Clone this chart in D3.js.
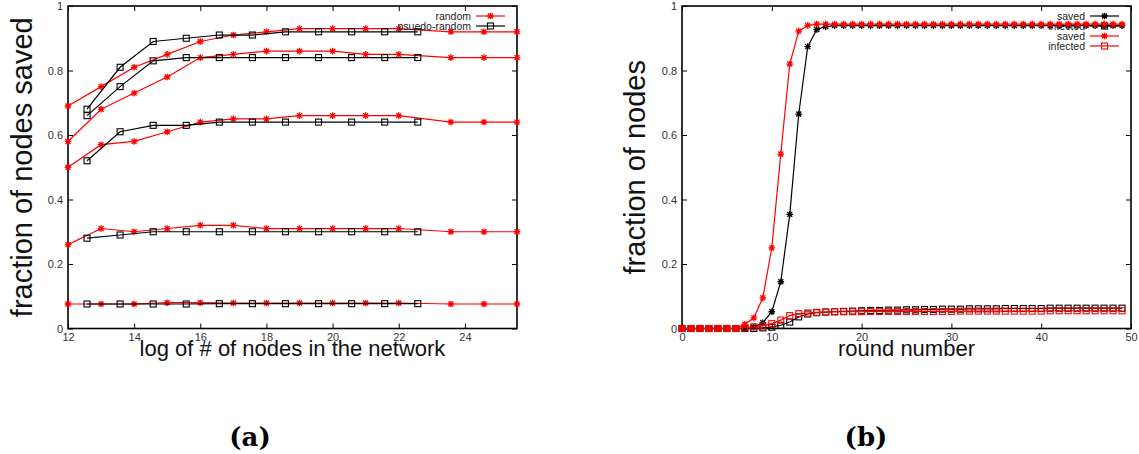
<!DOCTYPE html>
<html>
<head>
<meta charset="utf-8">
<style>
  body { margin: 0; background: #fff; }
  svg { display: block; font-family: 'Liberation Sans', Arial, sans-serif; }
</style>
</head>
<body>
<svg width="1139" height="454"></svg>
<script src="https://d3js.org/d3.v7.min.js"></script>
<script>
    // ---- panel (a) data ----
    let randomX = [12, 13, 14, 15, 16, 17, 18, 19, 20, 21, 22, 23.575, 24.575, 25.575]
    let pseudoX = [12.575, 13.575, 14.575, 15.575, 16.575, 17.575, 18.575, 19.575, 20.575, 21.575, 22.575]

    let random1 = [0.69, 0.75, 0.81, 0.85, 0.89, 0.91, 0.92, 0.93, 0.93, 0.93, 0.93, 0.92, 0.92, 0.92]
    let random2 = [0.58, 0.68, 0.73, 0.78, 0.84, 0.85, 0.86, 0.86, 0.86, 0.85, 0.85, 0.84, 0.84, 0.84]
    let random3 = [0.50, 0.57, 0.58, 0.61, 0.64, 0.65, 0.65, 0.66, 0.66, 0.66, 0.66, 0.64, 0.64, 0.64]
    let random4 = [0.26, 0.31, 0.30, 0.31, 0.32, 0.32, 0.31, 0.31, 0.31, 0.31, 0.31, 0.30, 0.30, 0.30]
    let random5 = [0.076, 0.076, 0.076, 0.08, 0.08, 0.079, 0.079, 0.079, 0.079, 0.079, 0.079, 0.076, 0.076, 0.076]

    let pseudo1 = [0.68, 0.81, 0.89, 0.90, 0.91, 0.91, 0.92, 0.92, 0.92, 0.92, 0.92]
    let pseudo2 = [0.66, 0.75, 0.83, 0.84, 0.84, 0.84, 0.84, 0.84, 0.84, 0.84, 0.84]
    let pseudo3 = [0.52, 0.61, 0.63, 0.63, 0.64, 0.64, 0.64, 0.64, 0.64, 0.64, 0.64]
    let pseudo4 = [0.28, 0.29, 0.30, 0.30, 0.30, 0.30, 0.30, 0.30, 0.30, 0.30, 0.30]
    let pseudo5 = [0.076, 0.076, 0.076, 0.076, 0.077, 0.077, 0.077, 0.077, 0.077, 0.077, 0.077]

    let xTicksA = [12, 14, 16, 18, 20, 22, 24]

    // ---- panel (b) data ----
    let rounds = [0, 1, 2, 3, 4, 5, 6, 7, 8, 9, 10, 11, 12, 13, 14, 15, 16, 17, 18, 19,
        20, 21, 22, 23, 24, 25, 26, 27, 28, 29, 30, 31, 32, 33, 34, 35, 36, 37, 38, 39,
        40, 41, 42, 43, 44, 45, 46, 47, 48, 49]

    let savedBlack = [0, 0, 0, 0, 0, 0, 0, 0, 0.005, 0.018, 0.052, 0.145, 0.354, 0.665, 0.874, 0.927, 0.936, 0.939, 0.939, 0.939,
        0.939, 0.939, 0.939, 0.939, 0.939, 0.939, 0.939, 0.939, 0.939, 0.939, 0.939, 0.939, 0.939, 0.939, 0.939, 0.939, 0.939, 0.939, 0.939, 0.939,
        0.939, 0.939, 0.939, 0.939, 0.939, 0.939, 0.939, 0.939, 0.939, 0.939]
    let infectedBlack = [0, 0, 0, 0, 0, 0, 0, 0, 0, 0.002, 0.004, 0.01, 0.02, 0.036, 0.045, 0.049, 0.051, 0.052, 0.053, 0.054,
        0.055, 0.056, 0.056, 0.057, 0.057, 0.058, 0.058, 0.059, 0.059, 0.06, 0.06, 0.06, 0.061, 0.061, 0.061, 0.061, 0.062, 0.062, 0.062, 0.062,
        0.062, 0.063, 0.063, 0.063, 0.063, 0.063, 0.063, 0.063, 0.063, 0.063]
    let savedRed = [0, 0, 0, 0, 0, 0, 0, 0.013, 0.033, 0.095, 0.25, 0.541, 0.82, 0.922, 0.94, 0.944, 0.944, 0.944, 0.944, 0.944,
        0.944, 0.944, 0.944, 0.944, 0.944, 0.944, 0.944, 0.944, 0.944, 0.944, 0.944, 0.944, 0.944, 0.944, 0.944, 0.944, 0.944, 0.944, 0.944, 0.944,
        0.944, 0.944, 0.944, 0.944, 0.944, 0.944, 0.944, 0.944, 0.944, 0.944]
    let infectedRed = [0, 0, 0, 0, 0, 0, 0, 0.002, 0.005, 0.008, 0.015, 0.026, 0.04, 0.046, 0.048, 0.05, 0.051, 0.052, 0.052, 0.052,
        0.052, 0.053, 0.053, 0.053, 0.053, 0.053, 0.053, 0.053, 0.053, 0.053, 0.053, 0.054, 0.054, 0.054, 0.054, 0.054, 0.054, 0.054, 0.054, 0.054,
        0.054, 0.055, 0.055, 0.055, 0.055, 0.055, 0.055, 0.055, 0.055, 0.055]

    let xTicksB = [0, 10, 20, 30, 40, 50]
    let yTicks = [0, 0.2, 0.4, 0.6, 0.8, 1]

    let svg = d3.select("svg")
    svg.append("rect").attr("width", 1139).attr("height", 454).style("fill", "white")

    let RED = "#ff0000"
    let BLACK = "#000000"

    // star = gnuplot point type 3
    function star(g, x, y, color) {
        let s = 3.3, d = s * 0.75
        g.append("path")
            .attr("d", `M${x - s},${y}H${x + s}M${x},${y - s}V${y + s}M${x - d},${y - d}L${x + d},${y + d}M${x - d},${y + d}L${x + d},${y - d}`)
            .style("stroke", color)
            .style("stroke-width", 1.3)
            .style("fill", "none")
    }
    // open square = gnuplot point type 4
    function square(g, x, y, color) {
        g.append("rect")
            .attr("x", x - 3).attr("y", y - 3)
            .attr("width", 6).attr("height", 6)
            .style("stroke", color)
            .style("stroke-width", 1.1)
            .style("fill", "none")
    }

    function drawPanel(opts) {
        let x = d3.scaleLinear().domain(opts.xDomain).range([opts.left, opts.right])
        let y = d3.scaleLinear().domain([0, 1]).range([328.5, 6])
        let g = svg.append("g")

        // axes with inward ticks on all four sides
        let axes = [
            [d3.axisBottom(x).tickValues(opts.xTicks).tickSize(-5).tickPadding(5).tickFormat(d => d), `translate(0,${y(0)})`],
            [d3.axisTop(x).tickValues(opts.xTicks).tickSize(-5).tickFormat(""), `translate(0,${y(1)})`],
            [d3.axisLeft(y).tickValues(yTicks).tickSize(-5).tickPadding(5).tickFormat(d => d), `translate(${opts.left},0)`],
            [d3.axisRight(y).tickValues(yTicks).tickSize(-5).tickFormat(""), `translate(${opts.right},0)`]
        ]
        axes.forEach(([ax, tr]) => {
            let a = g.append("g").attr("transform", tr).call(ax)
            a.select(".domain").remove()
            a.selectAll("line").style("stroke", "#000").style("stroke-width", 1)
            a.selectAll("text").style("font-size", "11px").style("fill", "#333")
                .style("font-family", "'Liberation Sans', Arial, sans-serif")
        })

        g.append("rect")
            .attr("x", opts.left).attr("y", y(1))
            .attr("width", opts.right - opts.left).attr("height", y(0) - y(1))
            .style("fill", "none").style("stroke", "#000").style("stroke-width", 1.6)

        // axis titles
        g.append("text")
            .attr("x", (opts.left + opts.right) / 2).attr("y", 356)
            .attr("text-anchor", "middle")
            .style("font-size", "22px").style("fill", "#111")
            .text(opts.xLabel)
        g.append("text")
            .attr("transform", `translate(${opts.yLabelX},${(y(0) + y(1)) / 2}) rotate(-90)`)
            .attr("text-anchor", "middle")
            .style("font-size", "29px").style("fill", "#111")
            .text(opts.yLabel)

        g.append("text")
            .attr("x", opts.capX).attr("y", 446)
            .attr("text-anchor", "middle")
            .style("font-family", "'DejaVu Serif', serif")
            .style("font-weight", "bold")
            .style("font-size", "26px")
            .text(opts.caption)

        let line = d3.line().x(d => x(d[0])).y(d => y(d[1]))

        // each series: legend entry (if any) then line and points
        opts.series.forEach((s, i) => {
            if (s.label) {
                let ly = 16 + 10 * s.legendRow
                g.append("text")
                    .attr("x", opts.right - 46).attr("y", ly + 4)
                    .attr("text-anchor", "end")
                    .style("font-size", "10.5px").style("fill", "#222")
                    .text(s.label)
                g.append("line")
                    .attr("x1", opts.right - 41).attr("x2", opts.right - 12)
                    .attr("y1", ly).attr("y2", ly)
                    .style("stroke", s.color).style("stroke-width", 1.2)
                s.marker(g, opts.right - 26.5, ly, s.color)
            }
            let pts = s.xs.map((v, j) => [v, s.ys[j]])
            g.append("path")
                .datum(pts)
                .attr("d", line)
                .style("fill", "none")
                .style("stroke", s.color)
                .style("stroke-width", 1.2)
            pts.forEach(p => s.marker(g, x(p[0]), y(p[1]), s.color))
        })
    }

    let seriesA = []
    let randoms = [random1, random2, random3, random4, random5]
    let pseudos = [pseudo1, pseudo2, pseudo3, pseudo4, pseudo5]
    randoms.forEach((r, i) => seriesA.push({ xs: randomX, ys: r, color: RED, marker: star, label: i == 0 ? "random" : null, legendRow: 0 }))
    pseudos.forEach((p, i) => seriesA.push({ xs: pseudoX, ys: p, color: BLACK, marker: square, label: i == 0 ? "psuedo-random" : null, legendRow: 1 }))

    drawPanel({
        left: 68, right: 517, xDomain: [12, 25.575], xTicks: xTicksA,
        xLabel: "log of # of nodes in the network",
        yLabel: "fraction of nodes saved", yLabelX: 32,
        caption: "(a)", capX: 250,
        series: seriesA
    })

    drawPanel({
        left: 682, right: 1131, xDomain: [0, 50], xTicks: xTicksB,
        xLabel: "round number",
        yLabel: "fraction of nodes", yLabelX: 645,
        caption: "(b)", capX: 866,
        series: [
            { xs: rounds, ys: savedBlack, color: BLACK, marker: star, label: "saved", legendRow: 0 },
            { xs: rounds, ys: infectedBlack, color: BLACK, marker: square, label: "infected", legendRow: 1 },
            { xs: rounds, ys: savedRed, color: RED, marker: star, label: "saved", legendRow: 2 },
            { xs: rounds, ys: infectedRed, color: RED, marker: square, label: "infected", legendRow: 3 }
        ]
    })
</script>
</body>
</html>
